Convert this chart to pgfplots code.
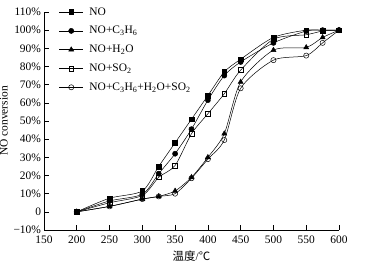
\documentclass[border=0pt]{standalone}
\usepackage{pgfplots}
\pgfplotsset{compat=1.18}
\usepackage{fontspec}
\setmainfont{Liberation Serif}
\newfontfamily\cjk{Noto Sans CJK SC}
\begin{document}
\fontsize{11.5}{13.5}\selectfont
\begin{tikzpicture}[x=1bp,y=1bp]
\useasboundingbox (-44bp,-39bp) rectangle (325bp,230bp);
\begin{axis}[
  scale only axis,
  width=295bp, height=218bp,
  xmin=150, xmax=600, ymin=-10, ymax=110,
  axis x line*=bottom, axis y line*=left,
  axis line style={-, line width=0.6pt},
  xtick={150,200,...,600},
  ytick={-10,0,10,...,110},
  yticklabels={−10\%,0,10\%,20\%,30\%,40\%,50\%,60\%,70\%,80\%,90\%,100\%,110\%},
  tick align=inside,
  major tick length=5bp,
  tick style={black, line width=0.6pt},
  /pgf/number format/assume math mode=true,
  tick label style={font=\fontsize{11.5}{13.5}\selectfont},
  xticklabel style={yshift=-2bp},
  yticklabel style={xshift=1bp},
  xlabel={{\cjk 温度}/{\cjk ℃}},
  ylabel={NO conversion},
  label style={font=\fontsize{11.5}{13.5}\selectfont},
  xlabel style={yshift=1bp},
  ylabel style={yshift=-2bp},
  every axis plot/.append style={black, line width=0.5pt, smooth, tension=0.45},
  legend style={draw=none, fill=none, at={(0.04,1.04)}, anchor=north west,
    font=\fontsize{11.5}{13.5}\selectfont, row sep=5.5bp, cells={anchor=west}},
  legend image code/.code={\draw[mark repeat=2,mark phase=2] plot coordinates {(0bp,0bp)(12bp,0bp)(24bp,0bp)};\path (28bp,0bp);},
  legend cell align=left,
]
\addplot[mark=square*, mark size=2.4pt, mark options={solid,fill=black}] coordinates {
(200,0)(250,7.5)(300,11.5)(325,25)(350,38)(375,51)(400,64)(425,77)(450,84)(500,96)(550,100)(575,100)(600,100)};
\addlegendentry{NO}
\addplot[mark=*, mark size=2.6pt, mark options={solid,fill=black}] coordinates {
(200,0)(250,6)(300,9.7)(325,21)(350,32)(375,45.5)(400,61.5)(425,75)(450,82.5)(500,93)(550,99.5)(575,100)(600,100)};
\addlegendentry{NO+C\textsubscript{3}H\textsubscript{6}}
\addplot[mark=triangle*, mark size=2.9pt, mark options={solid,fill=black}] coordinates {
(200,0)(250,3)(300,7)(325,8.5)(350,11.5)(375,19)(400,30)(425,43)(450,71.5)(500,89)(550,90.5)(575,96)(600,100)};
\addlegendentry{NO+H\textsubscript{2}O}
\addplot[mark=square, mark size=2.4pt, mark options={solid,fill=white}] coordinates {
(200,0)(250,5)(300,9)(325,19)(350,25.5)(375,43)(400,54)(425,65)(450,78)(500,95)(550,97.5)(575,99.5)(600,100)};
\addlegendentry{NO+SO\textsubscript{2}}
\addplot[mark=o, mark size=2.6pt, mark options={solid,fill=white}] coordinates {
(200,0)(250,3)(300,7)(325,8.5)(350,10)(375,18.5)(400,29)(425,39.5)(450,68)(500,83.5)(550,86)(575,93)(600,100)};
\addlegendentry{NO+C\textsubscript{3}H\textsubscript{6}+H\textsubscript{2}O+SO\textsubscript{2}}
\end{axis}
\end{tikzpicture}
\end{document}
